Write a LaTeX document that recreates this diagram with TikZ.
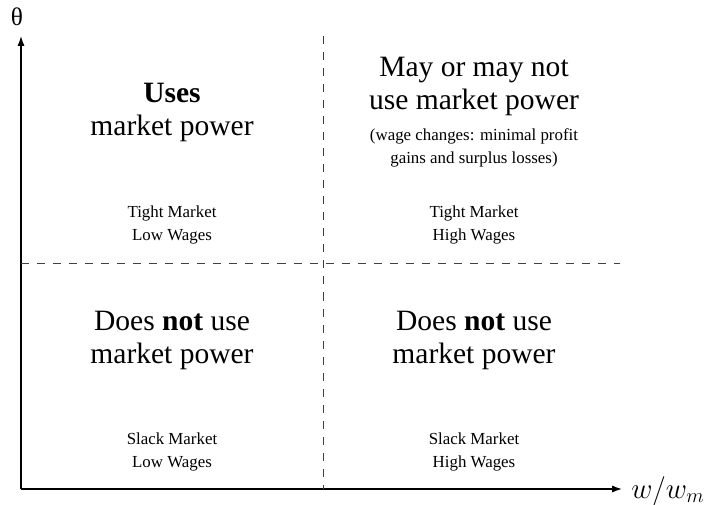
\documentclass[tikz,border=0pt]{standalone}
\usepackage{fontspec}
\usepackage{amsmath}
\usepackage{tikz}
\usetikzlibrary{arrows.meta}
\setmainfont{Liberation Serif}

\newcommand{\bigtxt}{\fontsize{21}{23.5}\selectfont}
\newcommand{\smalltxt}{\fontsize{12}{16.4}\selectfont}

\tikzset{
  axis/.style={line width=0.95pt, -{Latex[length=7pt,width=5pt]}},
  split/.style={line width=0.7pt, black!75, dash pattern=on 5.7pt off 5.7pt},
  bigbox/.style={align=center, font=\bigtxt, inner sep=0pt},
  smallbox/.style={align=center, font=\smalltxt, inner sep=0pt}
}

\begin{document}
\begin{tikzpicture}[x=0.025cm,y=-0.025cm]

\useasboundingbox (0,0) rectangle (712,505);

% axes
\coordinate (origin) at (21,489);
\coordinate (ytop) at (21,36);
\coordinate (xend) at (622,489);
\draw[axis] (origin) -- (ytop);
\draw[axis] (origin) -- (xend);
\node (theta) at (17,17) {\fontsize{18}{18}\selectfont θ};
\node[anchor=west, inner sep=0pt] (wratio) at (631,491) {\fontsize{21}{21}\selectfont $w/w_m$};

% quadrant split
\coordinate (vtop) at (323,36);
\coordinate (vbot) at (323,489);
\coordinate (hleft) at (21,263);
\coordinate (hright) at (620,263);
\draw[split] (vtop) -- (vbot);
\draw[split] (hleft) -- (hright);

% top left
\node[bigbox] (uses) at (172,112) {\textbf{Uses}\\market power};
\node[smallbox] (tightlow) at (172,225) {Tight Market\\Low Wages};

% top right
\node[bigbox] (maybe) at (474,86) {May or may not\\use market power};
\node[smallbox] (note) at (474,148) {(wage changes: minimal profit\\gains and surplus losses)};
\node[smallbox] (tighthigh) at (474,225) {Tight Market\\High Wages};

% bottom row
\foreach \x/\w/\nm in {172/Low/left,474/High/right}{
  \node[bigbox] (doesnot\nm) at (\x,340) {Does \textbf{not} use\\market power};
  \node[smallbox] (slack\nm) at (\x,452) {Slack Market\\\w{} Wages};
}

\end{tikzpicture}
\end{document}
